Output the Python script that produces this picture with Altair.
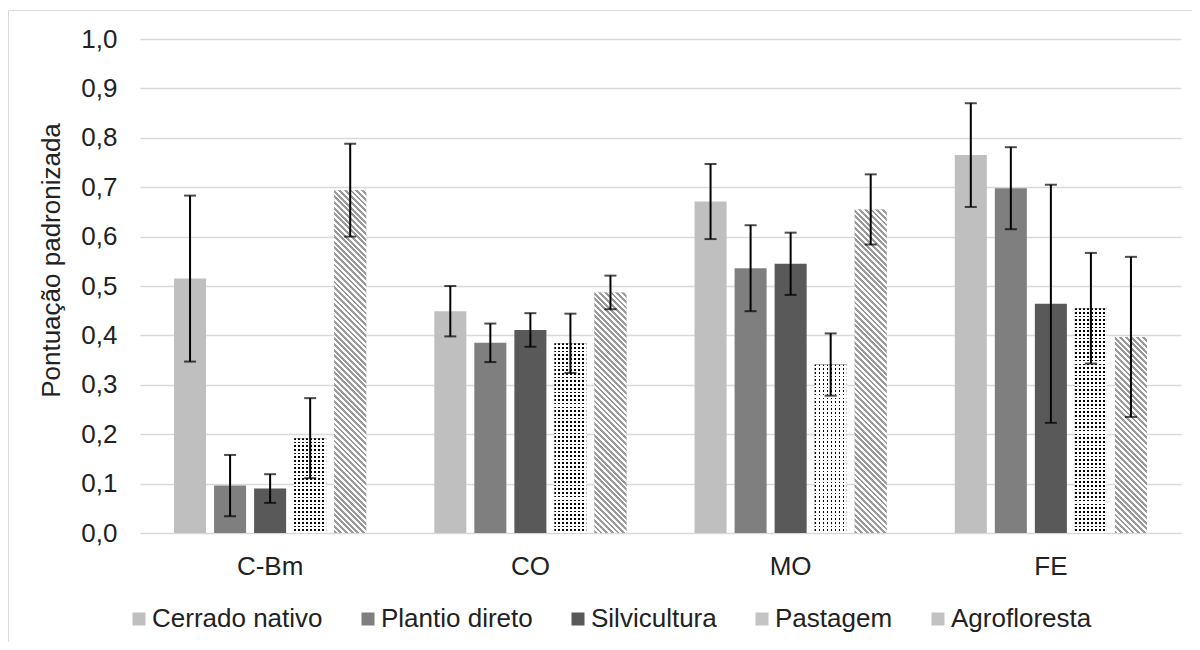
import altair as alt
import pandas as pd

# ---------------- data ----------------
categories = ["C-Bm", "CO", "MO", "FE"]
series = ["Cerrado nativo", "Plantio direto", "Silvicultura", "Pastagem", "Agrofloresta"]

cerrado_nativo = [0.515, 0.449, 0.671, 0.765]
cerrado_nativo_err = [0.168, 0.051, 0.076, 0.105]
plantio_direto = [0.096, 0.385, 0.536, 0.698]
plantio_direto_err = [0.062, 0.039, 0.087, 0.083]
silvicultura = [0.090, 0.411, 0.545, 0.464]
silvicultura_err = [0.029, 0.034, 0.063, 0.241]
pastagem = [0.192, 0.384, 0.341, 0.455]
pastagem_err = [0.081, 0.060, 0.063, 0.112]
agrofloresta = [0.694, 0.487, 0.655, 0.397]
agrofloresta_err = [0.094, 0.034, 0.071, 0.162]

y_ticks = [0.0, 0.1, 0.2, 0.3, 0.4, 0.5, 0.6, 0.7, 0.8, 0.9, 1.0]
y_title = "Pontuação padronizada"

values = [cerrado_nativo, plantio_direto, silvicultura, pastagem, agrofloresta]
errors = [cerrado_nativo_err, plantio_direto_err, silvicultura_err, pastagem_err, agrofloresta_err]

rows = []
for s, vals, errs in zip(series, values, errors):
    for c, v, e in zip(categories, vals, errs):
        rows.append({"cat": c, "serie": s, "val": v, "lo": v - e, "hi": v + e})
df = pd.DataFrame(rows)

# ---------------- layout / style ----------------
W, H = 1041, 494
PAD = {"left": 132, "top": 31, "right": 11, "bottom": 109}
FONT = "Liberation Sans"
TXT = "#222222"
GRID = "#d9d9d9"
legend_colors = ["#bfbfbf", "#7f7f7f", "#595959", "#c4c4c4", "#c2c2c2"]

IN_PAD, OUT_PAD = 0.2, 0.85
step_off = (W / len(categories)) / (len(series) - IN_PAD + 2 * OUT_PAD)
BAR_W = step_off * (1 - IN_PAD)

x_enc = alt.X("cat:N", sort=categories,
              scale=alt.Scale(domain=categories, paddingInner=0, paddingOuter=0),
              axis=alt.Axis(title=None, labelAngle=0, labelFontSize=26, labelFont=FONT,
                            labelColor=TXT, labelPadding=20, ticks=False, domain=False,
                            grid=False))
xo_enc = alt.XOffset("serie:N", sort=series,
                     scale=alt.Scale(domain=series, paddingInner=IN_PAD, paddingOuter=OUT_PAD))
y_enc = alt.Y("val:Q", scale=alt.Scale(domain=[0, 1], nice=False, zero=True),
              axis=alt.Axis(values=y_ticks, title=y_title,
                            labelExpr="replace(format(datum.value, '.1f'), '.', ',')",
                            labelFontSize=26, labelFont=FONT, labelColor=TXT, labelPadding=23,
                            ticks=False, domain=False, grid=True, gridColor=GRID, gridWidth=1.5,
                            titleFontSize=26, titleFont=FONT, titleColor=TXT,
                            titleFontWeight="normal", titleAngle=270, titleX=-81, titleY=221,
                            titleAlign="center", titleBaseline="alphabetic"))


def stripes_fill(w, h, period=5.7, color="#9a9a9a"):
    t = (w + h) / (w * w + h * h)
    n = max(1, round((w + h) / period))
    stops = []
    for k in range(n):
        a, m, b = k / n, (k + 0.5) / n, (k + 1) / n
        stops += [{"offset": a, "color": color}, {"offset": m, "color": color},
                  {"offset": m, "color": "#ffffff"}, {"offset": b, "color": "#ffffff"}]
    return {"gradient": "linear", "x1": 0, "y1": 1, "x2": w * t, "y2": 1 - h * t, "stops": stops}


def rows_fill(h, period=3.7, frac=0.45):
    n = max(1, round(h / period))
    stops = []
    for k in range(n):
        a, m, b = k / n, (k + frac) / n, (k + 1) / n
        stops += [{"offset": a, "color": "#000000"}, {"offset": m, "color": "#000000"},
                  {"offset": m, "color": "#ffffff"}, {"offset": b, "color": "#ffffff"}]
    return {"gradient": "linear", "x1": 0, "y1": 0, "x2": 0, "y2": 1, "stops": stops}


def cols_fill(w, period=3.8, frac=0.45):
    n = max(1, round(w / period))
    stops = []
    clear = "rgba(255,255,255,0)"
    for k in range(n):
        a, m, b = k / n, (k + frac) / n, (k + 1) / n
        stops += [{"offset": a, "color": clear}, {"offset": m, "color": clear},
                  {"offset": m, "color": "#ffffff"}, {"offset": b, "color": "#ffffff"}]
    return {"gradient": "linear", "x1": 0, "y1": 0, "x2": 1, "y2": 0, "stops": stops}


base = alt.Chart(df)

bars = base.mark_bar().encode(
    x=x_enc, xOffset=xo_enc, y=y_enc,
    color=alt.Color("serie:N", sort=series,
                    scale=alt.Scale(domain=series, range=legend_colors),
                    legend=alt.Legend(orient="none", legendX=-14, legendY=567,
                                      direction="horizontal", columns=5, title=None,
                                      symbolType="square", symbolSize=169,
                                      symbolStrokeWidth=0, symbolOpacity=1,
                                      labelFontSize=26, labelFont=FONT, labelColor=TXT,
                                      labelOffset=0, columnPadding=32, labelLimit=400)),
)

layers = [bars]

for c, v in zip(categories, agrofloresta):
    hpx = v * H
    layers.append(
        base.transform_filter((alt.datum.serie == "Agrofloresta") & (alt.datum.cat == c))
        .mark_bar(fill=stripes_fill(BAR_W, hpx))
        .encode(x=x_enc, xOffset=xo_enc, y=y_enc)
    )

for c, v in zip(categories, pastagem):
    hpx = v * H
    layers.append(
        base.transform_filter((alt.datum.serie == "Pastagem") & (alt.datum.cat == c))
        .mark_bar(fill=rows_fill(hpx))
        .encode(x=x_enc, xOffset=xo_enc, y=y_enc)
    )
    layers.append(
        base.transform_filter((alt.datum.serie == "Pastagem") & (alt.datum.cat == c))
        .mark_bar(fill=cols_fill(BAR_W))
        .encode(x=x_enc, xOffset=xo_enc, y=y_enc)
    )

err_rule = base.mark_rule(color="#000000", strokeWidth=2).encode(
    x=x_enc, xOffset=xo_enc, y=alt.Y("lo:Q"), y2=alt.Y2("hi:Q"))
cap_hi = base.mark_tick(color="#000000", thickness=2, size=12).encode(
    x=x_enc, xOffset=xo_enc, y=alt.Y("hi:Q"))
cap_lo = base.mark_tick(color="#000000", thickness=2, size=12).encode(
    x=x_enc, xOffset=xo_enc, y=alt.Y("lo:Q"))
layers += [err_rule, cap_hi, cap_lo]

frame = alt.Chart(pd.DataFrame({"k": [0]})).mark_rect(
    filled=False, stroke=GRID, strokeWidth=1
).encode(x=alt.value(-131.5), x2=alt.value(W + 200), y=alt.value(-28.5), y2=alt.value(H + 200))
layers.append(frame)

chart = alt.layer(*layers).properties(
    width=W, height=H,
    padding=PAD,
    autosize=alt.AutoSizeParams(type="none"),
    background="#ffffff",
).configure_view(stroke=None)

chart.save("out.html", embed_options={"renderer": "svg", "actions": False})
